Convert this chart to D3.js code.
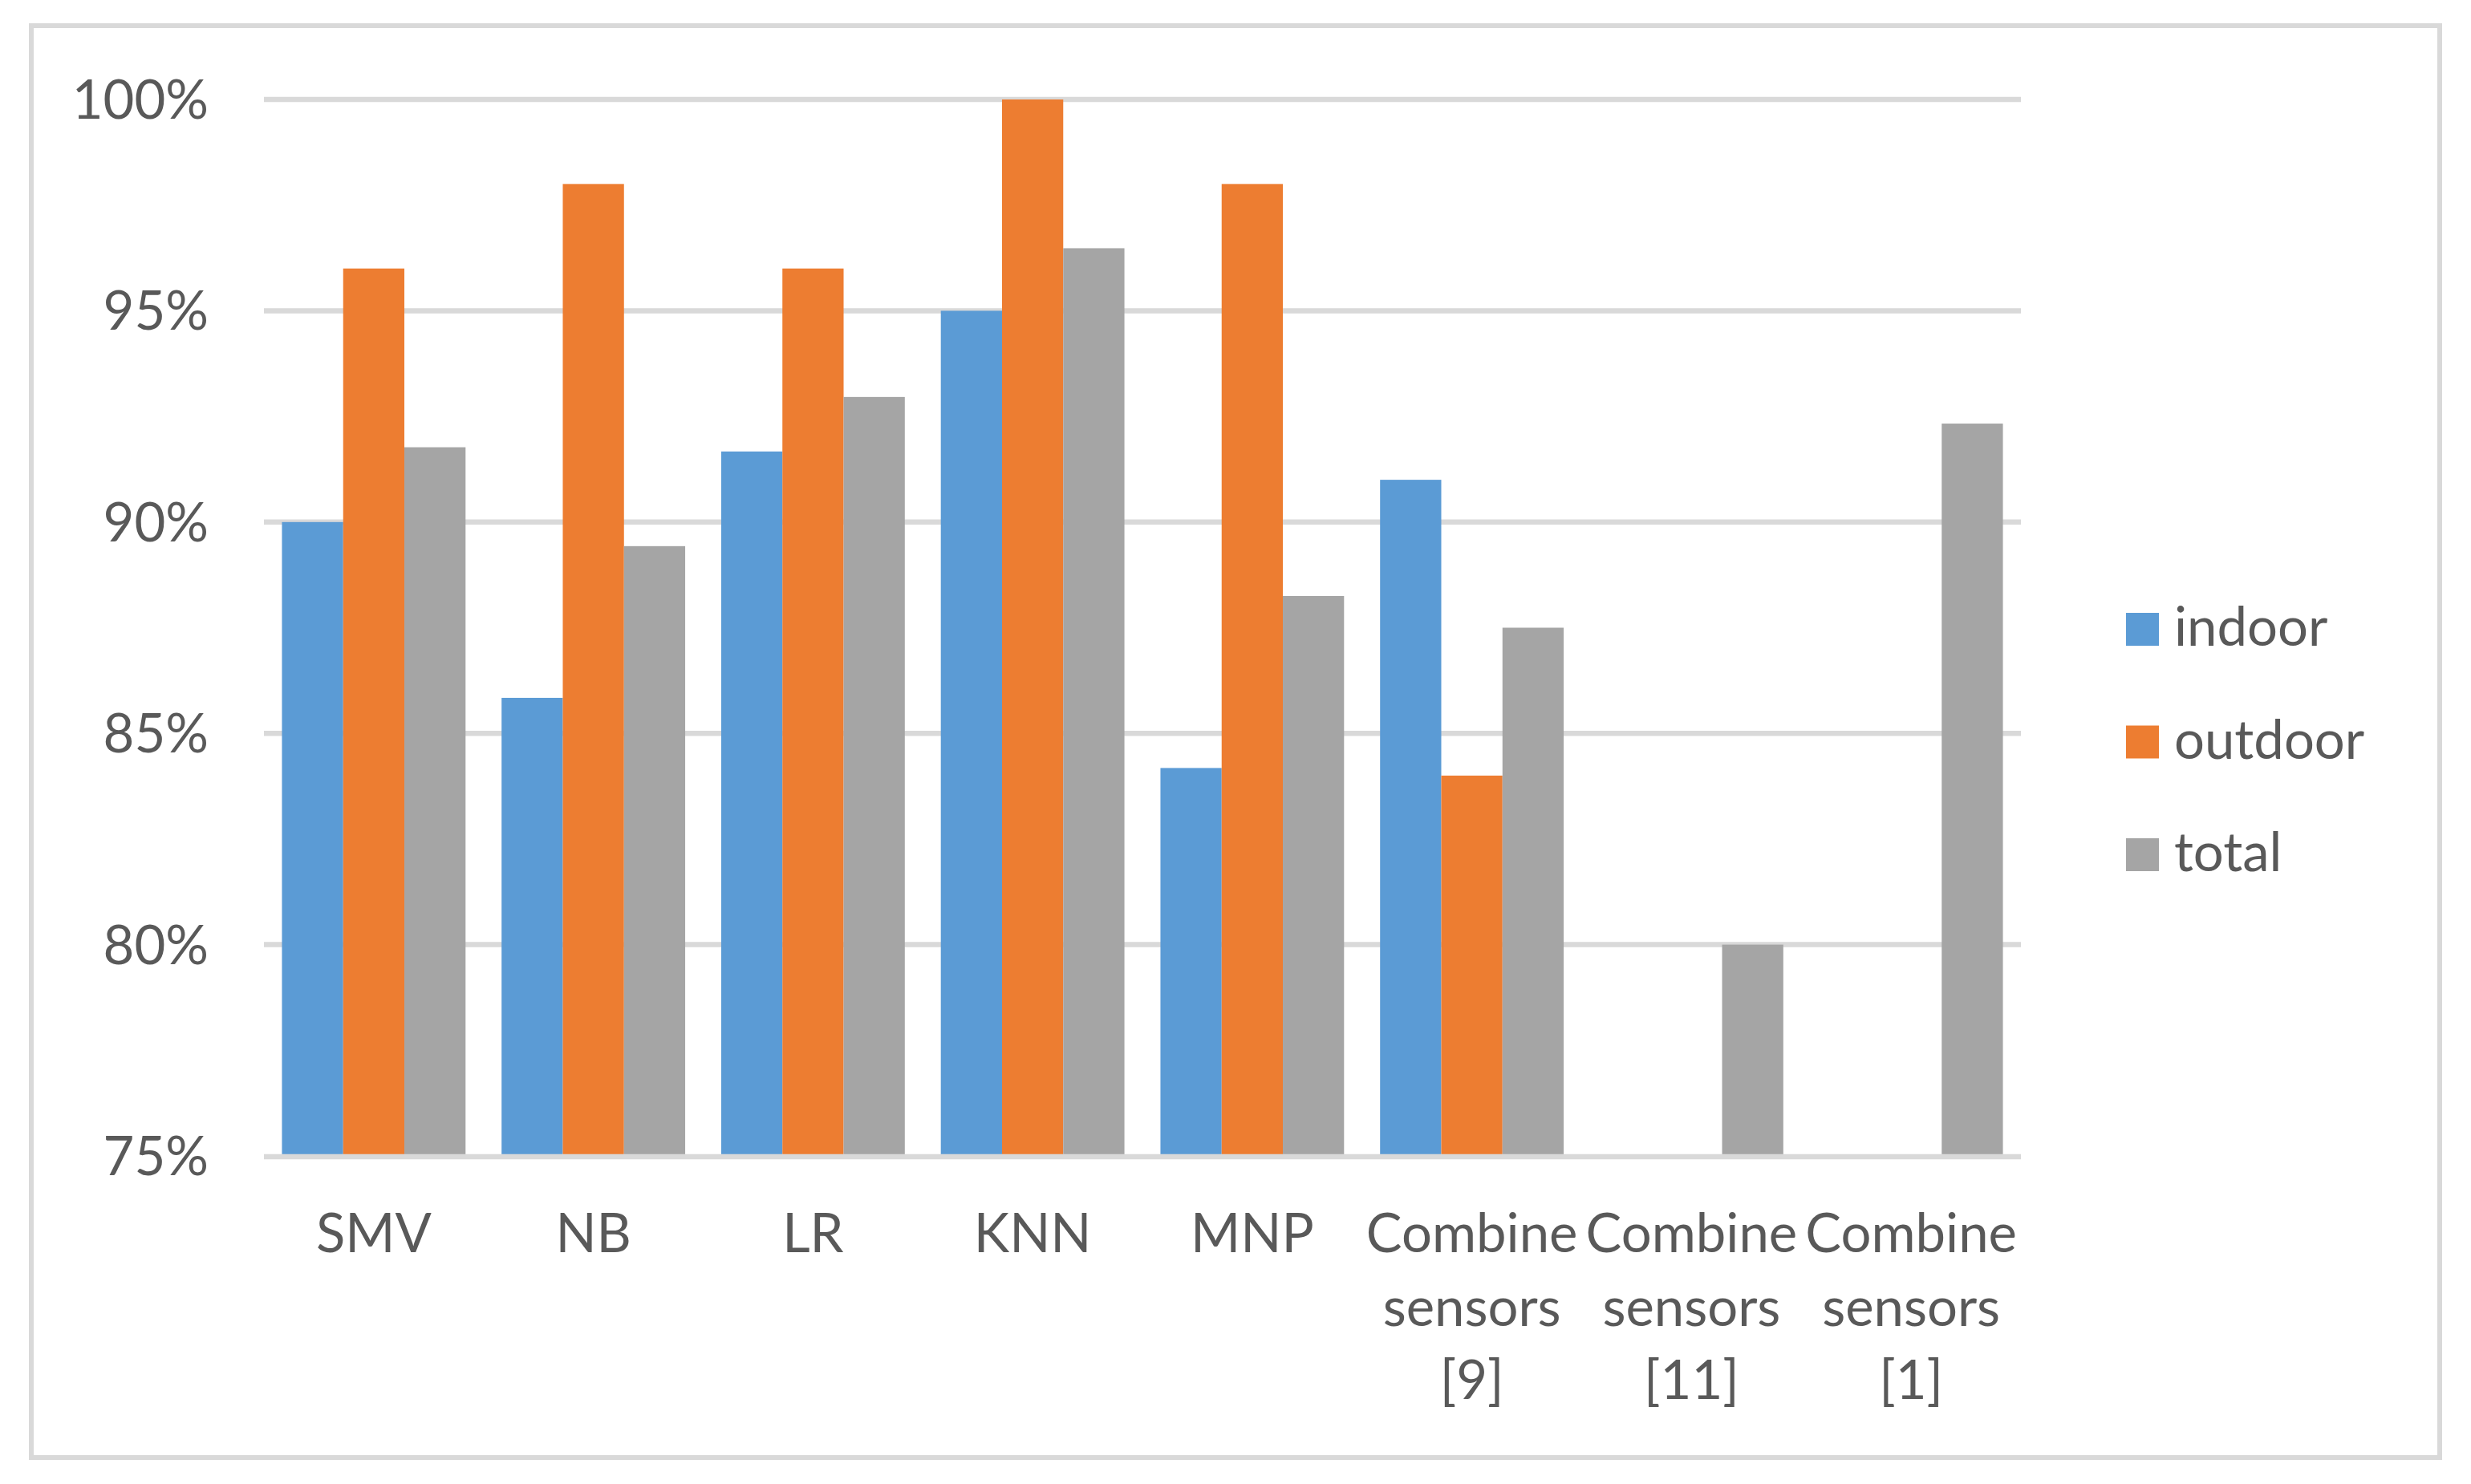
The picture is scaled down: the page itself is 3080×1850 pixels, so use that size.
<!DOCTYPE html>
<html>
<head>
<meta charset="utf-8">
<script src="https://cdn.jsdelivr.net/npm/d3@7"></script>
<style>
  html, body { margin: 0; padding: 0; background: #ffffff; }
  svg { display: block; }
</style>
</head>
<body>
<svg id="chart" width="3080" height="1850"></svg>
<script>
// ---- data ----
const categories = ["SMV", "NB", "LR", "KNN", "MNP", "Combine sensors [9]", "Combine sensors [11]", "Combine sensors [1]"];
const seriesNames = ["indoor", "outdoor", "total"];
const indoor  = [90.0, 85.84, 91.67, 95.0, 84.18, 91.0, null, null];
const outdoor = [96.0, 98.0, 96.0, 100.0, 98.0, 84.0, null, null];
const total   = [91.77, 89.43, 92.96, 96.48, 88.25, 87.5, 80.0, 92.33];
const yTicks  = [75, 80, 85, 90, 95, 100];
const colors  = ["#5B9BD5", "#ED7D31", "#A5A5A5"];

const seriesValues = [indoor, outdoor, total];
const FONT = "Lato, 'Open Sans', sans-serif";
const TEXT = "#595959";
const GRID = "#D9D9D9";

const svg = d3.select("#chart");

// outer frame
svg.append("rect")
  .attr("x", 39).attr("y", 32).attr("width", 3041 - 39).attr("height", 1817 - 32)
  .attr("fill", "#ffffff").attr("stroke", GRID).attr("stroke-width", 6);

const plot = { left: 329, right: 2519, top: 124, bottom: 1441 };

const x = d3.scaleBand()
  .domain(categories)
  .range([plot.left, plot.right])
  .paddingInner(0.164)
  .paddingOuter(0.082);

const xs = d3.scaleBand()
  .domain(seriesNames)
  .range([0, x.bandwidth()])
  .padding(0);

const y = d3.scaleLinear()
  .domain([75, 100])
  .range([plot.bottom, plot.top]);

// gridlines (except baseline)
svg.append("g").selectAll("line")
  .data(yTicks.filter(d => d !== 75))
  .join("line")
  .attr("x1", plot.left).attr("x2", plot.right)
  .attr("y1", d => y(d)).attr("y2", d => y(d))
  .attr("stroke", GRID).attr("stroke-width", 6.5);

// bars
const groups = svg.append("g").selectAll("g")
  .data(categories)
  .join("g")
  .attr("transform", c => `translate(${x(c)},0)`);

groups.selectAll("rect")
  .data((c, i) => seriesNames.map((s, k) => ({ s, k, v: seriesValues[k][i] })).filter(d => d.v !== null))
  .join("rect")
  .attr("x", d => xs(d.s))
  .attr("width", xs.bandwidth())
  .attr("y", d => y(d.v))
  .attr("height", d => y(75) - y(d.v))
  .attr("fill", d => colors[d.k]);

// baseline
svg.append("line")
  .attr("x1", plot.left).attr("x2", plot.right)
  .attr("y1", y(75) + 1).attr("y2", y(75) + 1)
  .attr("stroke", GRID).attr("stroke-width", 6.5);

// y axis labels
const yAxis = svg.append("g")
  .attr("transform", `translate(${plot.left},0)`)
  .call(d3.axisLeft(y).tickValues(yTicks).tickFormat(d => d + "%").tickSize(0).tickPadding(69));
yAxis.select(".domain").remove();
yAxis.selectAll("text")
  .attr("fill", TEXT)
  .style("font-family", FONT)
  .style("font-size", "67px")
  .attr("dy", "0.35em");

// x axis labels
const xAxis = svg.append("g")
  .attr("transform", `translate(0,${plot.bottom})`)
  .call(d3.axisBottom(x).tickSize(0));
xAxis.select(".domain").remove();
xAxis.selectAll("text").each(function(label) {
  const t = d3.select(this);
  t.text(null).attr("y", 0).attr("dy", null)
    .attr("fill", TEXT)
    .style("font-family", FONT)
    .style("font-size", "67px");
  label.split(" ").forEach((w, i) => {
    t.append("tspan").attr("x", 0).attr("y", 120 + i * 91.5).text(w);
  });
});

// legend
const legend = svg.append("g").selectAll("g")
  .data(seriesNames)
  .join("g")
  .attr("transform", (d, i) => `translate(2650,${764 + i * 140.5})`);
legend.append("rect")
  .attr("width", 41).attr("height", 41)
  .attr("fill", (d, i) => colors[i]);
legend.append("text")
  .attr("x", 60).attr("y", 41)
  .attr("fill", TEXT)
  .style("font-family", FONT)
  .style("font-size", "67px")
  .text(d => d);
</script>
</body>
</html>
